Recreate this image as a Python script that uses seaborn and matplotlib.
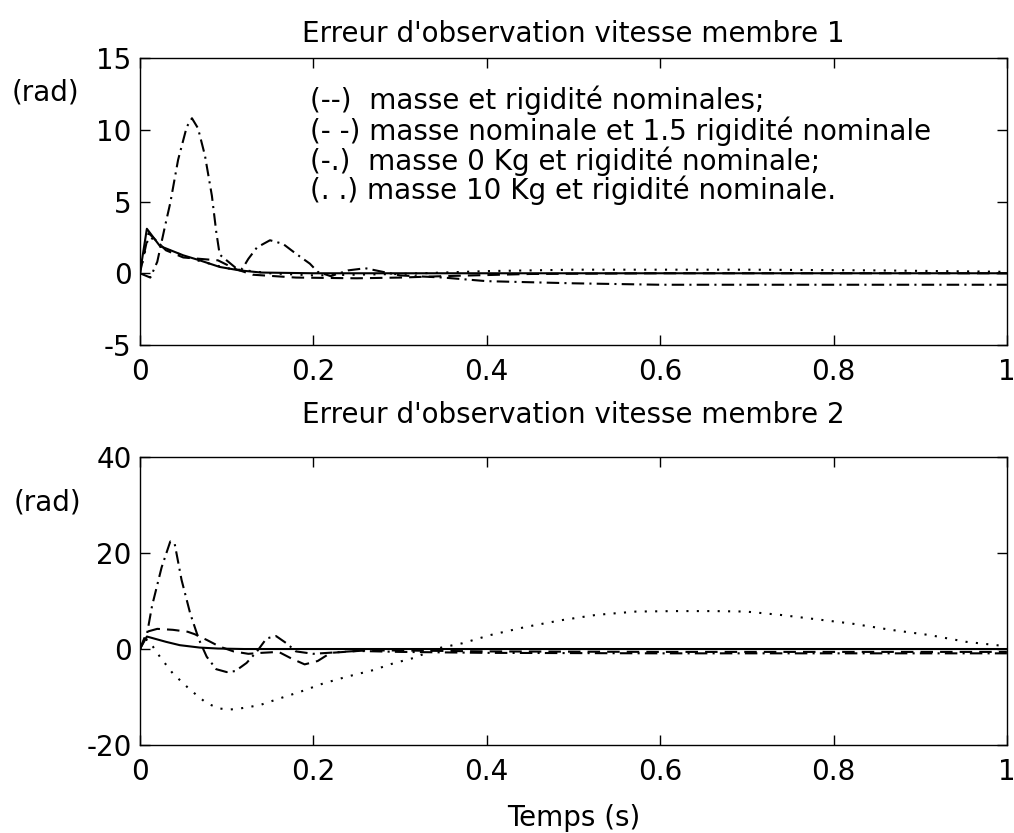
import matplotlib
matplotlib.use("Agg")
import matplotlib.pyplot as plt
import seaborn as sns
import pandas as pd

# ---------------- data: membre 1 ----------------
t1_solid = [0, 0.008, 0.023, 0.05, 0.069, 0.092, 0.115, 0.14, 0.2, 0.4, 0.6, 0.8, 1.0]
v1_solid = [0, 3.1, 1.9, 1.25, 0.9, 0.44, 0.2, 0.05, 0, 0, 0, 0, 0]

t1_dash = [0, 0.01, 0.03, 0.05, 0.07, 0.09, 0.11, 0.13, 0.18, 0.25, 0.3, 0.35, 0.45, 0.6, 0.8, 1.0]
v1_dash = [0, 2.8, 1.6, 1.1, 1.0, 0.9, 0.3, -0.1, -0.3, -0.35, -0.3, -0.2, -0.05, 0, 0, 0]

t1_dd = [0, 0.012, 0.02, 0.029, 0.035, 0.044, 0.054, 0.06, 0.067, 0.075, 0.083, 0.088,
         0.092, 0.1, 0.11, 0.118, 0.125, 0.135, 0.15, 0.165, 0.18, 0.196, 0.205, 0.22,
         0.24, 0.26, 0.28, 0.3, 0.35, 0.4, 0.5, 0.6, 0.8, 1.0]
v1_dd = [0, -0.3, 0.8, 3.3, 4.9, 7.9, 10.2, 10.8, 10.1, 8.2, 5.4, 2.9,
         1.3, 0.9, 0.4, 0.3, 1.0, 1.8, 2.3, 2.05, 1.36, 0.67, 0.1, -0.2,
         0.2, 0.35, 0.1, -0.15, -0.3, -0.55, -0.7, -0.8, -0.8, -0.8]

t1_dot = [0, 0.01, 0.03, 0.06, 0.1, 0.15, 0.2, 0.3, 0.4, 0.5, 0.6, 0.7, 0.85, 1.0]
v1_dot = [0, 2.6, 1.7, 1.0, 0.35, 0.0, -0.15, -0.05, 0.15, 0.25, 0.25, 0.25, 0.2, 0.1]

# ---------------- data: membre 2 ----------------
t2_solid = [0, 0.008, 0.03, 0.046, 0.069, 0.09, 0.12, 0.2, 0.4, 0.6, 0.8, 1.0]
v2_solid = [0, 2.6, 1.5, 0.8, 0.3, 0.1, 0, 0, 0, 0, 0, 0]

t2_dash = [0, 0.008, 0.02, 0.038, 0.055, 0.063, 0.077, 0.092, 0.108, 0.125, 0.14, 0.16,
           0.175, 0.19, 0.205, 0.22, 0.26, 0.3, 0.4, 0.6, 0.8, 1.0]
v2_dash = [0, 3.6, 4.2, 4.0, 3.6, 3.1, 1.9, 0.5, -0.5, -1.0, -0.8, -0.6,
           -2.0, -3.2, -2.5, -0.8, -0.3, -0.3, -0.5, -0.6, -0.6, -0.6]

t2_dd = [0, 0.008, 0.014, 0.025, 0.035, 0.04, 0.048, 0.058, 0.068, 0.077, 0.088, 0.1,
         0.11, 0.123, 0.135, 0.146, 0.157, 0.169, 0.18, 0.2, 0.25, 0.3, 0.4, 0.6, 0.8, 1.0]
v2_dd = [0, 3, 9, 17, 22.4, 22, 14.4, 7.4, 2, -1.6, -4.2, -4.8,
         -4.6, -2.9, -0.5, 2.2, 2.7, 1.2, -0.5, -1.0, -0.4, -0.6, -0.8, -0.9, -0.9, -0.9]

t2_dot = [0, 0.008, 0.015, 0.023, 0.038, 0.058, 0.077, 0.092, 0.104, 0.115, 0.138, 0.161,
          0.185, 0.211, 0.238, 0.269, 0.292, 0.315, 0.345, 0.372, 0.404, 0.445, 0.486,
          0.526, 0.572, 0.617, 0.662, 0.699, 0.739, 0.78, 0.821, 0.866, 0.911, 0.953, 0.993, 1.0]
v2_dot = [0, 2.0, 0.5, -1.6, -5.1, -8.5, -11.3, -12.4, -12.6, -12.4, -11.7, -10.3,
          -8.9, -7.2, -5.8, -4.4, -3.0, -1.9, 0.2, 1.2, 2.9, 4.6, 6.0,
          7.1, 7.8, 7.9, 7.9, 7.8, 7.1, 6.2, 5.3, 4.0, 2.9, 1.5, 0.7, 0.5]

titles = ["Erreur d'observation vitesse membre 1", "Erreur d'observation vitesse membre 2"]
x_ticks = [0, 0.2, 0.4, 0.6, 0.8, 1]
x_ticklabels = ["0", "0.2", "0.4", "0.6", "0.8", "1"]
y_ticks_1 = [-5, 0, 5, 10, 15]
y_ticks_2 = [-20, 0, 20, 40]
legend_lines = ["(--)  masse et rigidité nominales;",
                "(- -) masse nominale et 1.5 rigidité nominale",
                "(-.)  masse 0 Kg et rigidité nominale;",
                "(. .) masse 10 Kg et rigidité nominale."]

# ---------------- style ----------------
sns.set_theme(style="white")
plt.rcParams["font.family"] = ["DejaVu Sans"]
plt.rcParams["axes.unicode_minus"] = False
plt.rcParams["text.color"] = "black"
plt.rcParams["axes.labelcolor"] = "black"
plt.rcParams["axes.titlecolor"] = "black"

FS = 20
LW = 1.5
styles = {
    "solid": "-",
    "dash": (0, (6.0, 3.4)),
    "dd": (0, (6.0, 2.5, 1.0, 2.5)),
    "dot": (0, (1.0, 4.0)),
}

fig = plt.figure(figsize=(10.14, 8.33), dpi=100)
ax1 = fig.add_axes([0.138, 0.5858, 0.855, 0.3446])
ax2 = fig.add_axes([0.138, 0.1056, 0.855, 0.3458])

panels = [
    (ax1, [(t1_solid, v1_solid, "solid"), (t1_dash, v1_dash, "dash"),
           (t1_dd, v1_dd, "dd"), (t1_dot, v1_dot, "dot")]),
    (ax2, [(t2_solid, v2_solid, "solid"), (t2_dash, v2_dash, "dash"),
           (t2_dd, v2_dd, "dd"), (t2_dot, v2_dot, "dot")]),
]

for ax, series in panels:
    for t, v, key in series:
        df = pd.DataFrame({"t": t, "v": v})
        sns.lineplot(data=df, x="t", y="v", ax=ax, color="black", lw=LW,
                     linestyle=styles[key], estimator=None, sort=False)
    ax.set_xlim(0, 1)
    ax.set_xticks(x_ticks)
    ax.set_xticklabels(x_ticklabels)
    ax.set_xlabel("")
    ax.set_ylabel("")
    for s in ax.spines.values():
        s.set_color("black")
        s.set_linewidth(1.0)
    ax.tick_params(direction="in", length=7, width=1.0, colors="black",
                   labelsize=FS, top=True, right=True, bottom=True, left=True,
                   pad=6)
    ax.tick_params(axis="x", pad=9)

ax1.set_ylim(-5, 15)
ax1.set_yticks(y_ticks_1)
ax2.set_ylim(-20, 40)
ax2.set_yticks(y_ticks_2)

ax1.set_title(titles[0], fontsize=FS, pad=11.5)
ax2.set_title(titles[1], fontsize=FS, pad=24.5)
ax2.set_xlabel("Temps (s)", fontsize=FS, labelpad=13)

fig.text(45 / 1014, 1 - 92 / 833, "(rad)", fontsize=FS, ha="center", va="center")
fig.text(47 / 1014, 1 - 503 / 833, "(rad)", fontsize=FS, ha="center", va="center")

leg_y = [0.854, 0.743, 0.639, 0.540]
for txt, yy in zip(legend_lines, leg_y):
    ax1.text(0.196, yy, txt, transform=ax1.transAxes, fontsize=FS,
             ha="left", va="center")

fig.savefig("out.png", dpi=100, facecolor="white")
